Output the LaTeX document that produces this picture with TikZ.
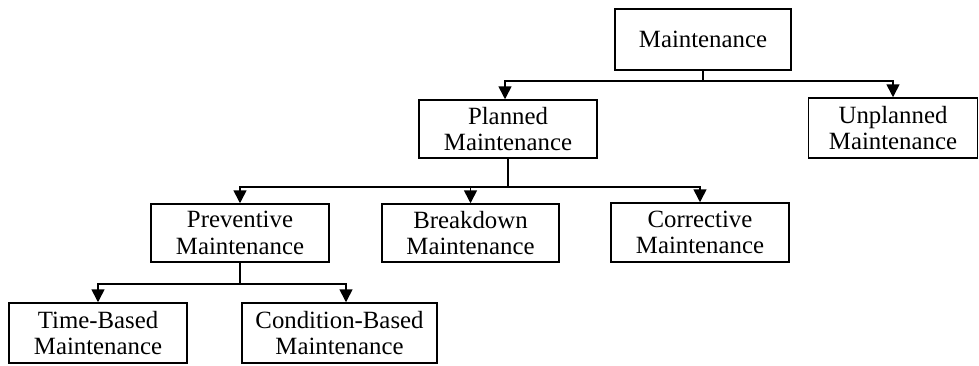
\documentclass[tikz,border=0pt]{standalone}
\usepackage{fontspec}
\setmainfont{Liberation Serif}
\usetikzlibrary{arrows.meta}
\begin{document}
\begin{tikzpicture}[x=1pt,y=-1pt,
  box/.style={draw, line width=1.5pt, inner sep=0pt, align=center,
    font=\fontsize{24.8}{26.5}\selectfont, minimum height=59pt},
  conn/.style={line width=1.6pt},
  arr/.style={line width=1.6pt, -{Triangle[width=13pt,length=13pt]}}]
\useasboundingbox (0,0) rectangle (979,365);
\node[box, minimum width=176pt, minimum height=61pt] (M) at (703,39.5) {Maintenance};
\node[box, minimum width=178pt, minimum height=58pt] (P) at (508,129) {Planned\\Maintenance};
\node[box, minimum width=169pt, minimum height=60pt] (U) at (893,128) {Unplanned\\Maintenance};
\node[box, minimum width=178pt, minimum height=58pt] (PV) at (240,233) {Preventive\\Maintenance};
\node[box, minimum width=177pt, minimum height=58pt] (B) at (470.5,233) {Breakdown\\Maintenance};
\node[box, minimum width=178pt, minimum height=59pt] (C) at (700,232.5) {Corrective\\Maintenance};
\node[box, minimum width=178pt, minimum height=60pt] (T) at (98,333) {Time-Based\\Maintenance};
\node[box, minimum width=195pt, minimum height=60pt] (CB) at (339.5,333) {Condition-Based\\Maintenance};
% level 1
\draw[conn] (M.south) -- ++(0,10.5) coordinate (j1);
\draw[arr] (j1) -| ([xshift=-3pt]P.north);
\draw[arr] (j1) -| (U.north);
% level 2
\draw[conn] (P.south) -- ++(0,28) coordinate (j2);
\draw[arr] (j2) -| (PV.north);
\draw[arr] (j2) -| (B.north);
\draw[arr] (j2) -| (C.north);
% level 3
\draw[conn] (PV.south) -- ++(0,21) coordinate (j3);
\draw[arr] (j3) -| (T.north);
\draw[arr] (j3) -| ([xshift=6.5pt]CB.north);
\end{tikzpicture}
\end{document}
